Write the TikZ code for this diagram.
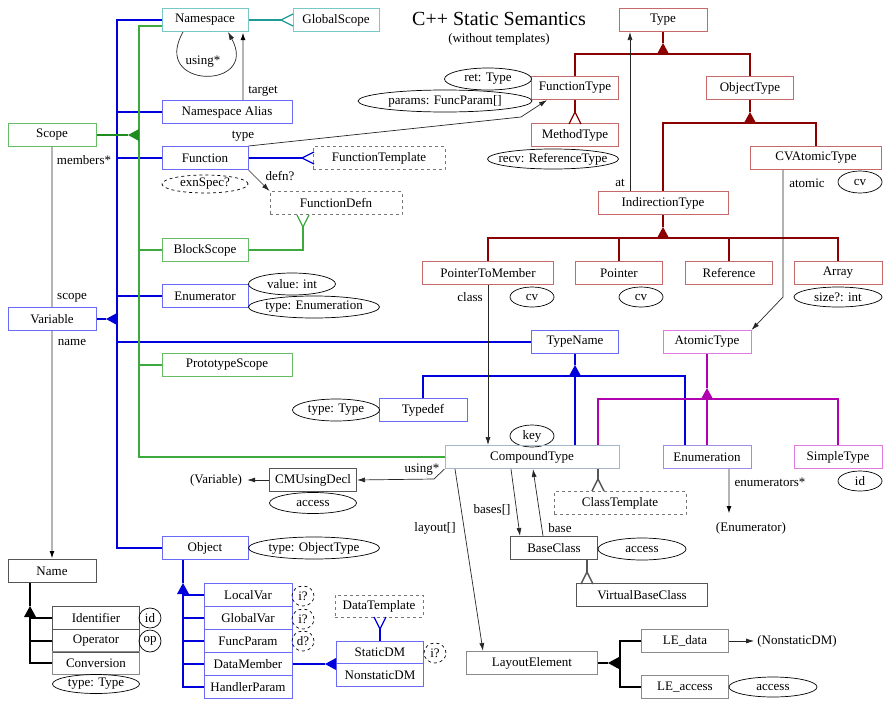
\documentclass[tikz,border=0pt]{standalone}
\usepackage{fontspec}
\setmainfont{Liberation Serif}
\usetikzlibrary{shapes.geometric,arrows.meta}
\definecolor{tealL}{HTML}{1E9A9A}
\definecolor{tealB}{HTML}{78C8C8}
\definecolor{blueL}{HTML}{0000DD}
\definecolor{blueB}{HTML}{6A6AF8}
\definecolor{greenL}{HTML}{3CAA3C}
\definecolor{greenD}{HTML}{1E8C1E}
\definecolor{greenB}{HTML}{66BB66}
\definecolor{redL}{HTML}{8B0000}
\definecolor{redB}{HTML}{C46A6A}
\definecolor{magL}{HTML}{B000B0}
\definecolor{magB}{HTML}{E07AE0}
\definecolor{purB}{HTML}{A08CE6}
\definecolor{ctB}{HTML}{A6B6CA}
\definecolor{dkB}{HTML}{555555}
\definecolor{gyB}{HTML}{8A8A8A}
\definecolor{dashB}{HTML}{777777}
\definecolor{lgL}{HTML}{B4B4B4}
\newcommand\mytriup[3]{\fill[#1] (#2,#3) -- ++(-6,11) -- ++(12,0) -- cycle;}
\newcommand\mytrileft[3]{\fill[#1] (#2,#3) -- ++(11,-6) -- ++(0,12) -- cycle;}
\newcommand\mycrowD[3]{\draw[#1] (#2,#3) ++(-6,12) -- ++(6,-12) -- ++(6,12);}
\newcommand\mycrowU[3]{\draw[#1] (#2,#3) ++(-6,-12) -- ++(6,12) -- ++(6,-12);}
\newcommand\mycrowR[3]{\draw[#1] (#2,#3) ++(12,-6) -- ++(-12,6) -- ++(12,6);}
\begin{document}
\begin{tikzpicture}[x=1pt,y=-1pt,font=\fontsize{13}{15}\selectfont,
  box/.style={draw,rectangle,minimum height=23,inner sep=0pt,line width=1pt},
  dbox/.style={box,dashed,draw=dashB,line width=0.8pt},
  ell/.style={draw,ellipse,inner sep=0pt,line width=0.7pt,
    execute at begin node={\hbox to 0pt\bgroup\hss},
    execute at end node={\hss\egroup}},
  dell/.style={ell,dashed},
  lbl/.style={inner sep=0pt},
  bline/.style={draw=blueL,line width=1.3pt},
  gline/.style={draw=greenL,line width=1.3pt},
  gdline/.style={draw=greenD,line width=1.4pt},
  rline/.style={draw=redL,line width=1.3pt},
  mline/.style={draw=magL,line width=1.3pt},
  tline/.style={draw=tealL,line width=1.3pt},
  kline/.style={draw=black,line width=1.3pt},
  dline/.style={draw=dkB,line width=1.4pt},
  arr/.style={draw=black!85,line width=0.7pt,-{Latex[length=8pt,width=5pt]}},
  garr/.style={draw=lgL,line width=1.8pt,-{Latex[length=8pt,width=5pt,color=black]}},
  gl2/.style={draw=lgL,line width=1.8pt}
]
\useasboundingbox (0,0) rectangle (889,707);

% ---- nodes: left part
\node[box,draw=tealB,minimum width=86] (ns) at (205,20) {Namespace};
\node[box,draw=tealB,minimum width=86] (gs) at (336,20) {GlobalScope};
\node[box,draw=blueB,minimum width=130] (nsa) at (227,112) {Namespace Alias};
\node[box,draw=greenB,minimum width=88] (scope) at (52,135) {Scope};
\node[box,draw=blueB,minimum width=86] (fn) at (205,158) {Function};
\node[dbox,minimum width=132] (ftmpl) at (379,158) {FunctionTemplate};
\node[dell,minimum width=86,minimum height=18] (exn) at (205,184) {exnSpec?};
\node[dbox,minimum width=132] (fdefn) at (336,203) {FunctionDefn};
\node[box,draw=greenB,minimum width=86] (block) at (205,250) {BlockScope};
\node[box,draw=blueB,minimum width=86] (enumr) at (205,296) {Enumerator};
\node[ell,minimum width=87,minimum height=22] (valint) at (292,284) {value: int};
\node[ell,minimum width=131,minimum height=22] (tyenum) at (314,307) {type: Enumeration};
\node[box,draw=blueB,minimum width=88] (var) at (52,319) {Variable};
\node[box,draw=greenB,minimum width=130] (proto) at (227,365) {PrototypeScope};
\node[box,draw=blueB,minimum width=88] (tdef) at (423,410) {Typedef};
\node[ell,minimum width=87,minimum height=22] (tdefty) at (336,410) {type: Type};
\node[ell,minimum width=44,minimum height=22] (key) at (532,436) {key};
\node[box,draw=ctB,minimum width=174] (ct) at (532,457) {CompoundType};
\node[box,draw=dkB,minimum width=87] (cmu) at (313,480) {CMUsingDecl};
\node[ell,minimum width=87,minimum height=21] (cmuacc) at (313,503) {access};
\node[lbl] (varref) at (216,480) {(Variable)};
\node[box,draw=blueB,minimum width=86] (obj) at (205,548) {Object};
\node[ell,minimum width=131,minimum height=22] (objty) at (314,548) {type: ObjectType};
\node[box,draw=dkB,minimum width=88] (name) at (52,571) {Name};
\node[box,draw=dkB,minimum width=87] (ident) at (96,618) {Identifier};
\node[box,draw=dkB,minimum width=87] (oper) at (96,641) {Operator};
\node[box,draw=gyB,minimum width=87] (conv) at (96,663) {Conversion};
\node[ell,minimum width=22,minimum height=20] (idell) at (150,618) {id};
\node[ell,minimum width=22,minimum height=22] (opell) at (150,641) {op};
\node[ell,minimum width=87,minimum height=19] (convty) at (96,684) {type: Type};
\node[box,draw=blueB,minimum width=88] (lvar) at (248,595) {LocalVar};
\node[box,draw=blueB,minimum width=88] (gvar) at (248,618) {GlobalVar};
\node[box,draw=blueB,minimum width=88] (fparam) at (248,641) {FuncParam};
\node[box,draw=blueB,minimum width=88] (dmem) at (248,664) {DataMember};
\node[box,draw=blueB,minimum width=88] (hparam) at (248,687) {HandlerParam};
\node[dell,minimum width=22,minimum height=20] (i1) at (303,596) {i?};
\node[dell,minimum width=22,minimum height=20] (i2) at (303,619) {i?};
\node[dell,minimum width=22,minimum height=20] (d3) at (303,641) {d?};
\node[dbox,minimum width=88,minimum height=22] (dtmpl) at (379,606) {DataTemplate};
\node[box,draw=blueB,minimum width=87,minimum height=22] (sdm) at (380,652) {StaticDM};
\node[box,draw=blueB,minimum width=87] (nsdm) at (380,675) {NonstaticDM};
\node[dell,minimum width=22,minimum height=20] (i4) at (435,653) {i?};

% ---- title
\node[lbl,font=\fontsize{20}{24}\selectfont] (title) at (499,19) {C++ Static Semantics};
\node[lbl] (sub) at (499,39) {(without templates)};

% ---- right part
\node[box,draw=redB,minimum width=88] (type) at (663,20) {Type};
\node[box,draw=redB,minimum width=87] (ft) at (575,88) {FunctionType};
\node[box,draw=redB,minimum width=87] (ot) at (750,88) {ObjectType};
\node[ell,minimum width=87,minimum height=22] (ret) at (488,79) {ret: Type};
\node[ell,minimum width=174,minimum height=22] (params) at (445,101) {params: FuncParam[]};
\node[box,draw=redB,minimum width=87] (mt) at (575,135) {MethodType};
\node[ell,minimum width=131,minimum height=20] (recv) at (553,159) {recv: ReferenceType};
\node[box,draw=redB,minimum width=131] (cvat) at (816,158) {CVAtomicType};
\node[ell,minimum width=44,minimum height=22] (cv1) at (860,182) {cv};
\node[box,draw=redB,minimum width=130] (indir) at (663,203) {IndirectionType};
\node[box,draw=redB,minimum width=131] (ptm) at (488,273) {PointerToMember};
\node[box,draw=redB,minimum width=87] (ptr) at (619,273) {Pointer};
\node[box,draw=redB,minimum width=87] (ref) at (729,273) {Reference};
\node[box,draw=redB,minimum width=88] (arr) at (838,273) {Array};
\node[ell,minimum width=44,minimum height=20] (cv2) at (532,297) {cv};
\node[ell,minimum width=44,minimum height=20] (cv3) at (641,297) {cv};
\node[ell,minimum width=88,minimum height=20] (size) at (838,297) {size?: int};
\node[box,draw=blueB,minimum width=87] (tn) at (575,342) {TypeName};
\node[box,draw=magB,minimum width=88] (at) at (707,342) {AtomicType};
\node[box,draw=purB,minimum width=88] (enum) at (707,457) {Enumeration};
\node[box,draw=magB,minimum width=88] (simple) at (838,457) {SimpleType};
\node[ell,minimum width=44,minimum height=20] (idell2) at (860,481) {id};
\node[lbl] (enumref) at (751,528) {(Enumerator)};
\node[dbox,minimum width=132] (ctmpl) at (620,503) {ClassTemplate};
\node[box,draw=dkB,minimum width=87] (bc) at (554,548) {BaseClass};
\node[ell,minimum width=88,minimum height=22] (bcacc) at (642,549) {access};
\node[box,draw=dkB,minimum width=131] (vbc) at (642,595) {VirtualBaseClass};
\node[box,draw=gyB,minimum width=131] (le) at (532,663) {LayoutElement};
\node[box,draw=gyB,minimum width=87] (led) at (685,641) {LE\_data};
\node[box,draw=gyB,minimum width=87] (lea) at (685,687) {LE\_access};
\node[ell,minimum width=88,minimum height=20] (leacc) at (773,687) {access};
\node[lbl] (nsdmref) at (797,641) {(NonstaticDM)};

% ---- edge labels
\node[lbl] (lusing) at (203,62) {using*};
\node[lbl] (ltarget) at (263,91) {target};
\node[lbl] (ltype) at (243,136) {type};
\node[lbl] (lmembers) at (84,160) {members*};
\node[lbl] (ldefn) at (280,176) {defn?};
\node[lbl] (lscope) at (72,298) {scope};
\node[lbl] (lname) at (72,342) {name};
\node[lbl] (lat) at (620,183) {at};
\node[lbl] (latomic) at (807,183) {atomic};
\node[lbl] (lclass) at (470,297) {class};
\node[lbl] (lusing2) at (422,470) {using*};
\node[lbl] (lbases) at (492,510) {bases[]};
\node[lbl] (lbase) at (560,528) {base};
\node[lbl] (llayout) at (435,528) {layout[]};
\node[lbl] (lenums) at (770,482) {enumerators*};

% ---- teal
\draw[tline] (ns.east) -- (281,20);
\mycrowR{tline}{281}{20}

% ---- blue bus
\coordinate (bb) at (117,20);
\draw[bline] (ns.west) -- (bb) -- (bb |- obj.west) -- (obj.west);
\draw[bline] (nsa.west) -- (nsa.west -| bb);
\draw[bline] (fn.west) -- (fn.west -| bb);
\draw[bline] (enumr.west) -- (enumr.west -| bb);
\draw[bline] (tn.west) -- (tn.west -| bb);
\draw[bline] (var.east) -- (106,319);
\mytrileft{blueL}{106}{319}
\draw[bline] (fn.east) -- (302,158);
\mycrowR{bline}{302}{158}

% ---- green bus
\coordinate (gb) at (139,26);
\draw[gline] ([yshift=-6pt]ns.west) -- (gb) -- (gb |- ct.west) -- (ct.west);
\draw[gline] (block.west) -- (block.west -| gb);
\draw[gline] (proto.west) -- (proto.west -| gb);
\draw[gdline] (scope.east) -- (128,135);
\mytrileft{greenD}{128}{135}
\draw[gline] (block.east) -| (303,227);
\mycrowU{gline}{303}{227}

% ---- dark red hierarchy
\draw[rline] (type.south) -- (663,43);
\mytriup{redL}{663}{43}
\draw[rline] (ft.north) |- (663,54) -| (ot.north);
\draw[rline] (ot.south) -- (750,112);
\mytriup{redL}{750}{112}
\draw[rline] (indir.north) |- (750,123) -| (cvat.north);
\draw[rline] (indir.south) -- (663,227);
\mytriup{redL}{663}{227}
\draw[rline] (ptm.north) |- (663,238) -| (arr.north);
\draw[rline] (ptr.north) -- (ptr.north |- 663,238);
\draw[rline] (ref.north) -- (ref.north |- 663,238);
\draw[rline] (ft.south) -- (575,112);
\mycrowD{rline}{575}{112}

% ---- TypeName hierarchy
\draw[bline] (tn.south) -- (575,365);
\mytriup{blueL}{575}{365}
\draw[bline] (tdef.north) |- (575,376) -| ([xshift=-22pt]enum.north);
\draw[bline] (575,376) -- ([xshift=43pt]ct.north);

% ---- AtomicType hierarchy
\draw[mline] (at.south) -- (707,388);
\mytriup{magL}{707}{388}
\draw[mline] ([xshift=66pt]ct.north) |- (707,399) -| (simple.north);
\draw[mline] (707,399) -- (enum.north);

% ---- Object hierarchy
\draw[bline] ([xshift=-22pt]obj.south) -- (183,583);
\mytriup{blueL}{183}{583}
\coordinate (ob) at (183,594);
\draw[bline] (ob) |- (hparam.west);
\foreach \n in {lvar,gvar,fparam,dmem} \draw[bline] (\n.west) -- (\n.west -| ob);
\draw[bline] (dmem.east) -- (325,664);
\mytrileft{blueL}{325}{664}
\draw[bline] (sdm.north) -- (380,629);
\mycrowU{bline}{380}{629}

% ---- Name hierarchy
\draw[kline] ([xshift=-22pt]name.south) -- (30,606);
\mytriup{black}{30}{606}
\coordinate (nb) at (30,617);
\draw[kline] (nb) |- (conv.west);
\draw[kline] (ident.west) -- (ident.west -| nb);
\draw[kline] (oper.west) -- (oper.west -| nb);

% ---- LayoutElement
\draw[kline] (le.east) -- (608,663);
\mytrileft{black}{608}{663}
\draw[kline] (led.west) -| (620,687) -- (lea.west);

% ---- crows to templates
\draw[dline] ([xshift=66pt]ct.south) -- (598,479);
\mycrowD{dline}{598}{479}
\draw[dline] ([xshift=33pt]bc.south) -- (587,572);
\mycrowD{dline}{587}{572}

% ---- association arrows
\draw[arr] ([xshift=-22pt]ns.south) .. controls (150,90) and (260,90) .. ([xshift=23pt]ns.south);
\draw[garr] ([xshift=16pt]nsa.north) -- ([xshift=38pt]ns.south);
\draw[gl2] (scope.south) -- (var.north);
\draw[garr] (var.south) -- (name.north);
\draw[arr] (fn.north east) -- (521,117) -- ([xshift=-28pt]ft.south);
\draw[arr] (fn.south east) -- (fdefn.north west);
\draw[arr] ([xshift=-33pt]indir.north) -- ([xshift=-33pt]type.south);
\draw[arr] ([xshift=-33pt]cvat.south) -- (783,297) -- (at.north east);
\draw[arr] (ptm.south) -- (ptm.south |- ct.north);
\draw[arr] (ct.south west) -- (434,479) -- (cmu.east);
\draw[arr] (cmu.west) -- ([xshift=5pt]varref.east);
\draw[arr] ([xshift=-21pt]ct.south) -- ([xshift=-34pt]bc.north);
\draw[arr] ([xshift=-11pt]bc.north) -- ([xshift=1pt]ct.south);
\draw[arr] ([xshift=-77pt]ct.south) -- ([xshift=-49pt]le.north);
\coordinate (ee) at (729,514);
\draw[garr] ([xshift=22pt]enum.south) -- (ee);
\draw[arr] (led.east) -- ([xshift=-3pt]nsdmref.west);
\end{tikzpicture}
\end{document}
